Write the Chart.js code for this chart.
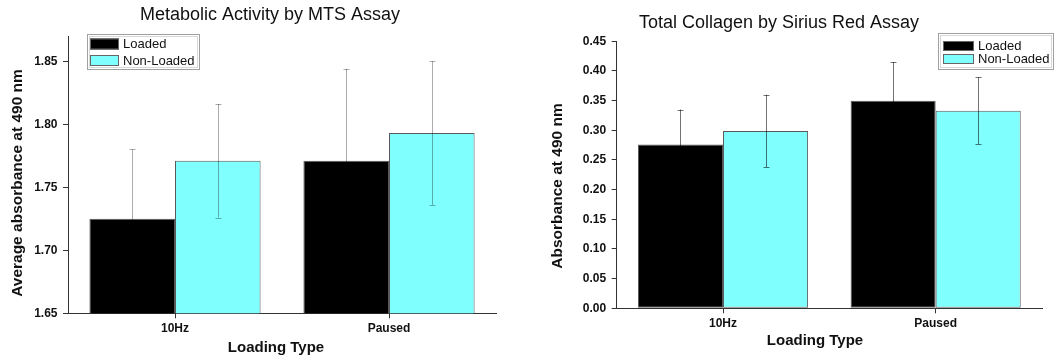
<!DOCTYPE html>
<html><head><meta charset="utf-8">
<script src="https://cdn.jsdelivr.net/npm/chart.js@4/dist/chart.umd.min.js"></script>
<style>
html,body{margin:0;padding:0;background:#fff;}
#wrap{position:relative;width:1056px;height:360px;overflow:hidden;background:#fff;}
canvas{position:absolute;top:0;}
#c1{left:0;} #c2{left:528px;}
</style></head><body>
<div id="wrap"><canvas id="c1" width="528" height="360"></canvas><canvas id="c2" width="528" height="360"></canvas></div>
<script>
// ---- data ----
const categories = ['10Hz', 'Paused'];
const seriesNames = ['Loaded', 'Non-Loaded'];

const mtsLoaded = [1.725, 1.771];
const mtsLoadedErr = [0.055, 0.073];
const mtsNonLoaded = [1.771, 1.793];
const mtsNonLoadedErr = [0.045, 0.057];
const mtsTicks = [1.65, 1.70, 1.75, 1.80, 1.85];

const siriusLoaded = [0.276, 0.350];
const siriusLoadedErr = [0.059, 0.065];
const siriusNonLoaded = [0.299, 0.333];
const siriusNonLoadedErr = [0.061, 0.056];
const siriusTicks = [0.00, 0.05, 0.10, 0.15, 0.20, 0.25, 0.30, 0.35, 0.40, 0.45];

const FONT = '"Liberation Sans", Arial, Helvetica, sans-serif';
const COLORS = ['#000000', '#80FFFF'];

// ---- plugin: error bars, titles, legend ----
const decor = {
  id: 'decor',
  afterDatasetsDraw(chart, args, o) {
    const ctx = chart.ctx;
    const ys = chart.scales.y;
    ctx.save();
    ctx.lineWidth = 1;
    chart.data.datasets.forEach((ds, i) => {
      const meta = chart.getDatasetMeta(i);
      ctx.strokeStyle = o.errColor;
      meta.data.forEach((el, j) => {
        const v = ds.data[j], e = ds.errors[j];
        const x = Math.round(el.x) + 0.5;
        const yHi = ys.getPixelForValue(v + e);
        const yLo = ys.getPixelForValue(v - e);
        ctx.beginPath();
        ctx.moveTo(x, yHi); ctx.lineTo(x, yLo);
        ctx.moveTo(x - 3, Math.round(yHi) + 0.5); ctx.lineTo(x + 3, Math.round(yHi) + 0.5);
        ctx.moveTo(x - 3, Math.round(yLo) + 0.5); ctx.lineTo(x + 3, Math.round(yLo) + 0.5);
        ctx.stroke();
      });
    });
    ctx.restore();
  },
  afterDraw(chart, args, o) {
    const ctx = chart.ctx;
    ctx.save();
    ctx.fillStyle = '#111';
    ctx.textBaseline = 'middle';
    ctx.textAlign = 'center';
    // chart title
    ctx.font = '18px ' + FONT;
    ctx.fillText(o.title.text, o.title.x, o.title.y);
    // x title
    ctx.font = 'bold 15px ' + FONT;
    ctx.fillText(o.xTitle.text, o.xTitle.x, o.xTitle.y);
    // y title
    ctx.save();
    ctx.translate(o.yTitle.x, o.yTitle.y);
    ctx.rotate(-Math.PI / 2);
    ctx.font = 'bold 15.5px ' + FONT;
    ctx.fillText(o.yTitle.text, 0, 0);
    ctx.restore();
    // legend
    const L = o.legend;
    ctx.fillStyle = '#fff';
    ctx.fillRect(L.x, L.y, L.w, L.h);
    ctx.strokeStyle = '#a0a0a0';
    ctx.lineWidth = 1;
    ctx.strokeRect(L.x + 0.5, L.y + 0.5, L.w, L.h);
    ctx.strokeStyle = '#d8d8d8';
    ctx.strokeRect(L.x + 2.5, L.y + 2.5, L.w - 4, L.h - 4);
    ctx.font = '13px ' + FONT;
    ctx.textAlign = 'left';
    chart.data.datasets.forEach((ds, i) => {
      const ry = L.y + L.rowTop + i * L.rowH;
      ctx.fillStyle = ds.backgroundColor;
      ctx.fillRect(L.x + L.swX, ry, L.swW, L.swH);
      ctx.strokeStyle = '#666';
      ctx.strokeRect(L.x + L.swX + 0.5, ry + 0.5, L.swW - 1, L.swH - 1);
      ctx.fillStyle = '#111';
      ctx.fillText(ds.label, L.x + L.txX, ry + L.swH / 2 + 0.5);
    });
    ctx.restore();
  }
};

function makeChart(id, vals, errs, ticks, yMin, yMax, geom, deco) {
  return new Chart(document.getElementById(id), {
    type: 'bar',
    data: {
      labels: categories,
      datasets: vals.map((v, i) => ({
        label: seriesNames[i],
        data: v,
        errors: errs[i],
        backgroundColor: COLORS[i],
        borderColor: '#5a5a5a',
        borderWidth: 1,
        borderSkipped: false,
        categoryPercentage: 0.8,
        barPercentage: 1.0
      }))
    },
    options: {
      responsive: false,
      animation: false,
      devicePixelRatio: 1,
      layout: { padding: { left: 0, top: geom.top, right: geom.right, bottom: 0 } },
      plugins: { legend: { display: false }, title: { display: false }, tooltip: { enabled: false }, decor: deco },
      scales: {
        x: {
          offset: true,
          grid: { display: true, drawOnChartArea: false, offset: false, tickLength: 5, color: '#333', tickColor: '#333' },
          border: { display: true, color: '#333' },
          ticks: { font: { family: FONT, size: 12, weight: 'bold' }, color: '#111', padding: 3, maxRotation: 0 },
          afterFit: s => { s.height = geom.xH; }
        },
        y: {
          min: yMin, max: yMax,
          afterBuildTicks: s => { s.ticks = ticks.map(v => ({ value: v })); },
          grid: { display: true, drawOnChartArea: false, tickLength: 5, color: '#333', tickColor: '#333' },
          border: { display: true, color: '#333' },
          ticks: { font: { family: FONT, size: 12, weight: 'bold' }, color: '#111', padding: 5.5, callback: v => Number(v).toFixed(2) },
          afterFit: s => { s.width = geom.yW; }
        }
      }
    },
    plugins: [decor]
  });
}

makeChart('c1', [mtsLoaded, mtsNonLoaded], [mtsLoadedErr, mtsNonLoadedErr], mtsTicks, 1.65, 1.87,
  { top: 36, right: 32, xH: 46.7, yW: 68 },
  {
    errColor: 'rgba(0,0,0,0.33)',
    title: { text: 'Metabolic Activity by MTS Assay', x: 270, y: 15 },
    xTitle: { text: 'Loading Type', x: 276, y: 348 },
    yTitle: { text: 'Average absorbance at 490 nm', x: 18, y: 183 },
    legend: { x: 87, y: 34, w: 112, h: 35, swX: 3, swW: 29, swH: 11, rowTop: 4.5, rowH: 16.5, txX: 36 }
  });

makeChart('c2', [siriusLoaded, siriusNonLoaded], [siriusLoadedErr, siriusNonLoadedErr], siriusTicks, 0, 0.45,
  { top: 41.3, right: 14, xH: 51.7, yW: 88.7 },
  {
    errColor: 'rgba(0,0,0,0.55)',
    title: { text: 'Total Collagen by Sirius Red Assay', x: 251, y: 22.7 },
    xTitle: { text: 'Loading Type', x: 287, y: 340.7 },
    yTitle: { text: 'Absorbance at 490 nm', x: 29.5, y: 186 },
    legend: { x: 410, y: 33, w: 115, h: 36, swX: 5, swW: 31, swH: 10, rowTop: 8, rowH: 13, txX: 40 }
  });
</script>
</body></html>
